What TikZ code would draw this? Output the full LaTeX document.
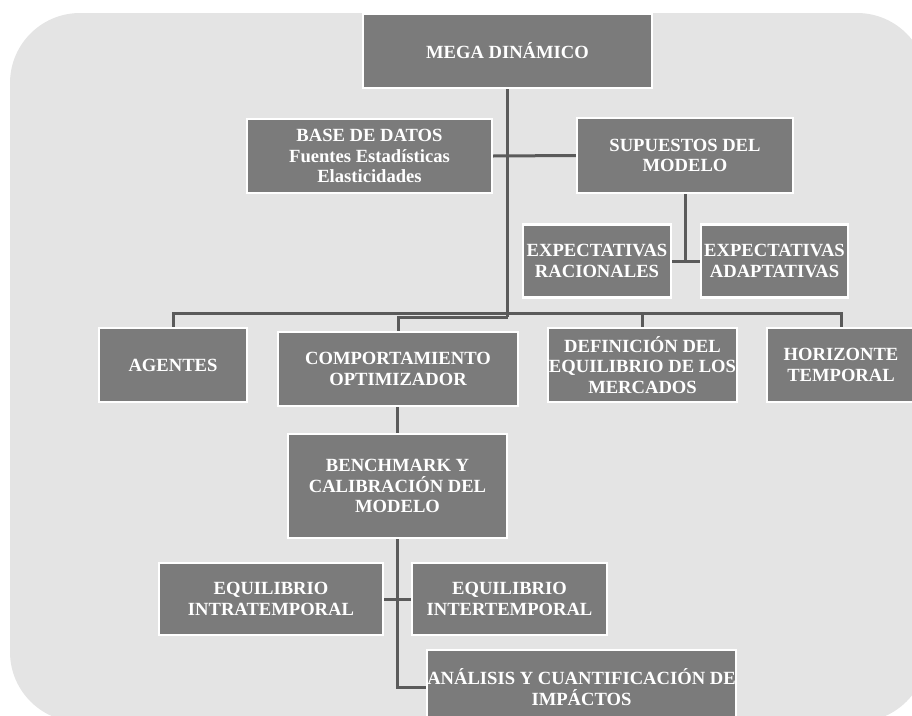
\documentclass[tikz,border=0pt]{standalone}
\usepackage{fontspec}
\setmainfont{Liberation Serif}
\definecolor{panel}{HTML}{E4E4E4}
\definecolor{boxfill}{HTML}{7B7B7B}
\definecolor{wire}{HTML}{5A5A5A}
\tikzset{
  box/.style={fill=boxfill, draw=white, line width=2.2pt, text=white,
    font=\bfseries\fontsize{18.6}{20.5}\selectfont, align=center, inner sep=0pt},
  conn/.style={draw=wire, line width=3pt},
}
\begin{document}
\begin{tikzpicture}[x=1pt,y=-1pt]
\useasboundingbox (0,0) rectangle (912,715);
\clip (0,0) rectangle (912,715);
% rounded grey panel behind the chart
\fill[panel, rounded corners=70pt] (10,13) rectangle (927,722);

% reference heights for the two bus lines
\coordinate (busY) at (0,313);
\coordinate (lowY) at (0,317);

% boxes
\node[box, minimum width=289pt, minimum height=74pt] (mega) at (507.5,51) {MEGA DINÁMICO};
\node[box, minimum width=245pt, minimum height=74pt] (base) at (369.5,156) {BASE DE DATOS\\Fuentes Estadísticas\\Elasticidades};
\node[box, minimum width=216pt, minimum height=75pt] (sup) at (685,155.5) {SUPUESTOS DEL\\MODELO};
\node[box, minimum width=148pt, minimum height=73pt] (expR) at (597,261) {EXPECTATIVAS\\RACIONALES};
\node[box, minimum width=147pt, minimum height=73pt] (expA) at (774.5,261) {EXPECTATIVAS\\ADAPTATIVAS};
\node[box, minimum width=148pt, minimum height=74pt] (agentes) at (173,365) {AGENTES};
\node[box, minimum width=240pt, minimum height=74pt] (comport) at (398,369) {COMPORTAMIENTO\\OPTIMIZADOR};
\node[box, minimum width=189pt, minimum height=74pt] (defin) at (642.5,365) {DEFINICIÓN DEL\\EQUILIBRIO DE LOS\\MERCADOS};
\node[box, minimum width=148pt, minimum height=74pt] (horiz) at (841,365) {HORIZONTE\\TEMPORAL};
\node[box, minimum width=219pt, minimum height=104pt] (bench) at (397.5,486) {BENCHMARK Y\\CALIBRACIÓN DEL\\MODELO};
\node[box, minimum width=224pt, minimum height=72pt] (eqIntra) at (271,599) {EQUILIBRIO\\INTRATEMPORAL};
\node[box, minimum width=195pt, minimum height=72pt] (eqInter) at (509.5,599) {EQUILIBRIO\\INTERTEMPORAL};
\node[box, minimum width=309pt, minimum height=74pt] (analisis) at (581.5,687) {ANÁLISIS Y CUANTIFICACIÓN DE\\IMPÁCTOS};

% connectors
\draw[conn] (mega.south) -- (mega.south |- lowY);
\draw[conn] (base.east) -- (sup.west);
\draw[conn] (sup.south) -- (sup.south |- expR.east);
\draw[conn] (expR.east) -- (expA.west);
\draw[conn] (agentes.north) -- (agentes.north |- busY) -- (horiz.north |- busY) -- (horiz.north);
\draw[conn] (defin.north) -- (defin.north |- busY);
\draw[conn] (comport.north) -- (comport.north |- lowY) -- (mega.south |- lowY);
\draw[conn] (bench.north |- comport.south) -- (bench.north);
\draw[conn] (bench.south) -- (bench.south |- analisis.west) -- (analisis.west);
\draw[conn] (eqIntra.east) -- (eqInter.west);
\end{tikzpicture}
\end{document}
